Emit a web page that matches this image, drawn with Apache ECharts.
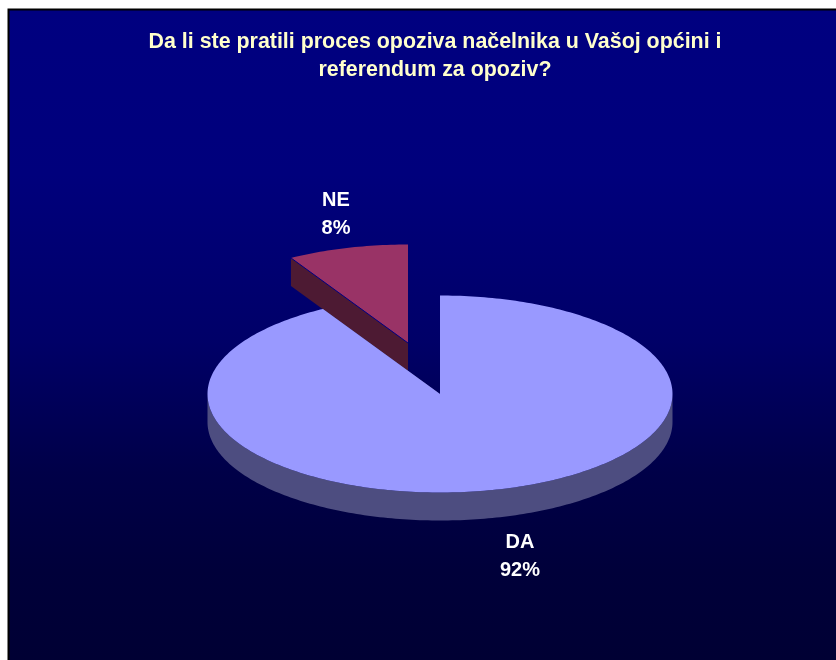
<!DOCTYPE html>
<html>
<head>
<meta charset="utf-8">
<title>Opoziv</title>
<style>
html,body{margin:0;padding:0;background:#fff;}
#main{width:836px;height:660px;}
</style>
<script src="https://cdn.jsdelivr.net/npm/echarts@6/dist/echarts.min.js"></script>
</head>
<body>
<div id="main"></div>
<script>
var titleText = 'Da li ste pratili proces opoziva načelnika u Vašoj općini i\nreferendum za opoziv?';
var categories = ['DA', 'NE'];
var values = [91.6, 8.4];
var topColors = ['#9999ff', '#993366'];
var sideColors = ['#4d4d80', '#4d1a33'];

// pie drawn by hand because the echarts pie can not be flattened into an ellipse
var cx = 440, cy = 394, rx = 232.5, ry = 98.5, depth = 28;
var offsets = [[0, 0], [-32, -51]];    // NE is pulled out of the pie
var labelPos = [[520, 556], [336, 214]];

var total = 0;
for (var i = 0; i < values.length; i++) {
    total += values[i];
}

function pointAt(c, a, dy) {
    // a = degrees clockwise from 12 o'clock
    var r = a * Math.PI / 180;
    return [c[0] + rx * Math.sin(r), c[1] - ry * Math.cos(r) + (dy || 0)];
}

function cutFace(c, a, order, color) {
    var p = pointAt(c, a);
    return {
        type: 'polygon',
        z2: order,
        shape: {points: [c, p, [p[0], p[1] + depth], [c[0], c[1] + depth]]},
        style: {fill: color}
    };
}

function renderSlice(params) {
    var idx = params.dataIndex;
    var start = 0;
    for (var i = 0; i < idx; i++) {
        start += values[i] / total * 360;
    }
    var end = start + values[idx] / total * 360;
    var c = [cx + offsets[idx][0], cy + offsets[idx][1]];
    var order = idx == 0 ? 10 : 1;
    var children = [];

    // side of the rim, only the front half can be seen
    var from = Math.max(start, 90), to = Math.min(end, 270);
    if (to > from) {
        var rim = [], back = [];
        for (var a = from; a <= to; a += 1) {
            rim.push(pointAt(c, a));
            back.unshift(pointAt(c, a, depth));
        }
        children.push({
            type: 'polygon',
            z2: order,
            shape: {points: rim.concat(back)},
            style: {fill: sideColors[idx]}
        });
    }

    // cut faces, whatever faces away ends up under the top face
    children.push(cutFace(c, start, order, sideColors[idx]));
    children.push(cutFace(c, end, order, sideColors[idx]));

    // top face
    var face = [c];
    for (var b = start; b < end; b += 1) {
        face.push(pointAt(c, b));
    }
    face.push(pointAt(c, end));
    children.push({
        type: 'polygon',
        z2: order + 1,
        shape: {points: face},
        style: {fill: topColors[idx]}
    });
    if (idx == 1) {
        children.push({
            type: 'polyline',
            z2: order + 2,
            shape: {points: [c, pointAt(c, start)]},
            style: {stroke: '#000080', lineWidth: 1, fill: null}
        });
    }

    var pct = Math.round(values[idx] / total * 100) + '%';
    children.push({
        type: 'text',
        z2: 20,
        style: {
            x: labelPos[idx][0],
            y: labelPos[idx][1],
            text: categories[idx] + '\n' + pct,
            align: 'center',
            verticalAlign: 'middle',
            fill: '#ffffff',
            font: 'bold 20px "Liberation Sans", Arial, sans-serif',
            lineHeight: 28
        }
    });
    return {type: 'group', children: children};
}

var seriesData = [];
for (var k = 0; k < values.length; k++) {
    seriesData.push({name: categories[k], value: values[k]});
}

var myChart = echarts.init(document.getElementById('main'));
myChart.setOption({
    animation: false,
    backgroundColor: '#ffffff',
    title: {
        text: titleText,
        left: 435,
        top: 28,
        padding: 0,
        textAlign: 'center',
        textStyle: {
            color: '#ffffcc',
            fontFamily: '"Liberation Sans", Arial, sans-serif',
            fontWeight: 'bold',
            fontSize: 21.4,
            lineHeight: 28
        }
    },
    graphic: [{
        type: 'rect',
        z: -1,
        shape: {x: 8.5, y: 9.5, width: 840, height: 660},
        style: {
            fill: new echarts.graphic.LinearGradient(0, 0, 0, 1, [
                {offset: 0, color: '#000080'},
                {offset: 0.25, color: '#00007c'},
                {offset: 0.5, color: '#000068'},
                {offset: 0.7, color: '#000048'},
                {offset: 0.85, color: '#00003a'},
                {offset: 1, color: '#000033'}
            ]),
            stroke: '#000000',
            lineWidth: 2
        }
    }],
    series: [{
        type: 'custom',
        coordinateSystem: 'none',
        renderItem: renderSlice,
        data: seriesData
    }]
});
</script>
</body>
</html>
